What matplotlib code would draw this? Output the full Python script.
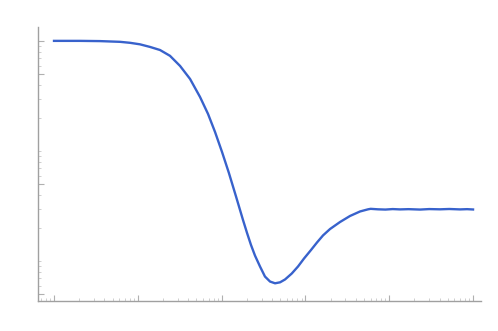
import numpy as np
import matplotlib
matplotlib.use("Agg")
import matplotlib.pyplot as plt
from matplotlib.ticker import NullFormatter, FixedLocator

# values (log-log, no tick labels)
x = [1, 2.04, 3.54, 6.13, 8.07, 10.6, 14.0, 18.4, 24.2, 31.9, 42.0, 55.2,
     68.8, 83.4, 101, 122, 149, 180, 201, 224, 250, 287, 329, 378, 434, 498,
     571, 687, 816, 962, 1167, 1375, 1622, 1966, 2588, 3404, 4484, 5585,
     6000, 7345, 9000, 11000, 13450, 17000, 23330, 30000, 40380, 52000,
     69950, 85000, 100000]
y = [20.1, 20.1, 20.0, 19.7, 19.3, 18.7, 17.7, 16.6, 14.7, 11.9, 9.06, 6.22,
     4.36, 2.99, 1.97, 1.27, 0.768, 0.473, 0.361, 0.281, 0.225, 0.179, 0.145,
     0.1306, 0.1259, 0.1285, 0.1364, 0.1545, 0.179, 0.2115, 0.253, 0.296,
     0.343, 0.392, 0.454, 0.515, 0.566, 0.592, 0.598, 0.592, 0.589, 0.595,
     0.591, 0.594, 0.589, 0.595, 0.592, 0.596, 0.591, 0.594, 0.590]

y_major = [0.1, 1, 10, 20]
y_minor = [0.12, 0.14, 0.16, 0.18, 0.2, 0.4, 0.6, 0.8,
           1.2, 1.4, 1.6, 1.8, 2, 4, 6, 8, 12, 14, 16, 18]

fig = plt.figure(figsize=(4.98, 3.31), dpi=100)
ax = fig.add_axes([0.0763, 0.0906, 0.8896, 0.828])
ax.plot(x, y, color='#3862cc', lw=1.7, solid_joinstyle='round')
ax.set_xscale('log')
ax.set_yscale('log')
ax.set_xlim(0.644, 1.245e5)
ax.set_ylim(0.0869, 26.9)

for s in ['top', 'right']:
    ax.spines[s].set_visible(False)
for s in ['left', 'bottom']:
    ax.spines[s].set_color('#a0a0a0')
    ax.spines[s].set_linewidth(1.0)

ax.yaxis.set_major_locator(FixedLocator(y_major))
ax.yaxis.set_minor_locator(FixedLocator(y_minor))
ax.xaxis.set_major_formatter(NullFormatter())
ax.xaxis.set_minor_formatter(NullFormatter())
ax.yaxis.set_major_formatter(NullFormatter())
ax.yaxis.set_minor_formatter(NullFormatter())
ax.tick_params(which='major', direction='in', length=4, width=0.8, color='#b0b0b0')
ax.tick_params(which='minor', direction='in', length=2, width=0.6, color='#c8c8c8')

fig.savefig("out.png", dpi=100)
